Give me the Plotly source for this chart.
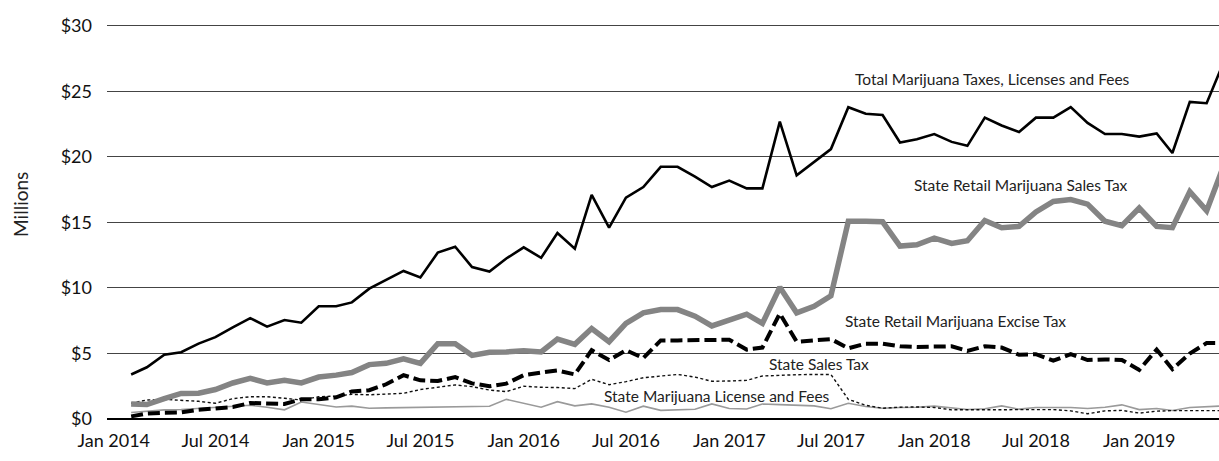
import pandas as pd
import plotly.graph_objects as go

# monthly collections, Feb 2014 - Jun 2019 ($ millions)
months = pd.date_range("2014-02-01", "2019-06-01", freq="MS")

total = [3.4, 3.95, 4.9, 5.1, 5.75, 6.25, 7.0, 7.7, 7.05, 7.55, 7.35,
         8.6, 8.6, 8.9, 9.95, 10.6, 11.3, 10.8, 12.7, 13.15, 11.6, 11.25, 12.25,
         13.1, 12.3, 14.2, 13.0, 17.1, 14.6, 16.9, 17.7, 19.25, 19.25, 18.5, 17.7,
         18.2, 17.6, 17.6, 22.7, 18.6, 19.6, 20.6, 23.8, 23.3, 23.2, 21.1, 21.35,
         21.75, 21.15, 20.85, 23.0, 22.4, 21.9, 23.0, 23.0, 23.8, 22.6, 21.75, 21.75,
         21.55, 21.8, 20.3, 24.2, 24.1, 27.3]

retail_sales = [1.15, 1.1, 1.55, 1.95, 1.97, 2.25, 2.75, 3.1, 2.75, 2.95, 2.75,
                3.2, 3.35, 3.55, 4.15, 4.25, 4.6, 4.25, 5.75, 5.75, 4.85, 5.1, 5.12,
                5.2, 5.12, 6.1, 5.7, 6.9, 5.9, 7.3, 8.1, 8.35, 8.35, 7.85, 7.1,
                7.6, 8.0, 7.3, 10.05, 8.1, 8.6, 9.4, 15.1, 15.1, 15.05, 13.2, 13.3,
                13.8, 13.4, 13.6, 15.15, 14.6, 14.7, 15.8, 16.6, 16.75, 16.4, 15.1, 14.75,
                16.1, 14.7, 14.6, 17.35, 15.9, 19.4]

excise = [0.2, 0.42, 0.48, 0.5, 0.7, 0.78, 0.92, 1.22, 1.22, 1.15, 1.5,
          1.5, 1.65, 2.1, 2.2, 2.65, 3.35, 2.95, 2.9, 3.2, 2.72, 2.5, 2.7,
          3.35, 3.55, 3.7, 3.4, 5.25, 4.5, 5.25, 4.65, 6.0, 6.0, 6.0, 6.0,
          6.05, 5.3, 5.45, 8.05, 5.9, 6.0, 6.1, 5.4, 5.75, 5.75, 5.55, 5.5,
          5.5, 5.55, 5.2, 5.55, 5.45, 4.9, 4.95, 4.45, 4.95, 4.5, 4.55, 4.5,
          3.75, 5.3, 3.8, 5.0, 5.8, 5.8]

state_sales = [1.2, 1.45, 1.5, 1.45, 1.35, 1.2, 1.55, 1.7, 1.7, 1.58, 1.45,
               1.7, 1.75, 1.88, 1.85, 1.9, 1.96, 2.25, 2.45, 2.6, 2.47, 2.21, 2.09,
               2.5, 2.42, 2.4, 2.32, 3.03, 2.62, 2.85, 3.15, 3.25, 3.4, 3.2, 2.88,
               2.9, 2.95, 3.28, 3.36, 3.38, 3.4, 3.4, 1.5, 1.05, 0.82, 0.9, 0.92,
               0.88, 0.7, 0.7, 0.7, 0.74, 0.74, 0.74, 0.72, 0.62, 0.4, 0.62, 0.66,
               0.45, 0.6, 0.64, 0.64, 0.64, 0.64]

license_fees = [0.5, 0.6, 0.7, 0.72, 0.8, 0.9, 1.0, 1.05, 0.9, 0.7, 1.3,
                1.1, 0.92, 0.98, 0.82, 0.85, 0.88, 0.9, 0.92, 0.95, 0.95, 0.97, 1.5,
                1.2, 0.9, 1.32, 1.0, 1.15, 0.9, 0.52, 0.98, 0.66, 0.7, 0.74, 1.15,
                0.8, 0.76, 1.15, 1.1, 1.07, 1.0, 0.78, 1.2, 0.95, 0.82, 0.88, 0.9,
                0.98, 0.85, 0.72, 0.78, 1.0, 0.75, 0.88, 0.88, 0.88, 0.8, 0.9, 1.08,
                0.72, 0.8, 0.65, 0.88, 0.95, 1.0]

y_ticks = [0, 5, 10, 15, 20, 25, 30]
y_labels = ["$0", "$5", "$10", "$15", "$20", "$25", "$30"]

# (text, x date, y value) for the in-chart series labels
labels = [
    ("Total Marijuana Taxes, Licenses and Fees", "2018-04-14", 25.95),
    ("State Retail Marijuana Sales Tax", "2018-06-04", 17.85),
    ("State Retail Marijuana Excise Tax", "2018-02-08", 7.45),
    ("State Sales Tax", "2017-06-10", 4.2),
    ("State Marijuana License and Fees", "2016-12-11", 1.76),
]

fig = go.Figure()
fig.add_trace(go.Scatter(x=months, y=license_fees, mode="lines",
                         line=dict(color="#9a9a9a", width=1.6)))
fig.add_trace(go.Scatter(x=months, y=state_sales, mode="lines",
                         line=dict(color="#111111", width=1.4, dash="3px,2.5px")))
fig.add_trace(go.Scatter(x=months, y=retail_sales, mode="lines",
                         line=dict(color="#848484", width=5.5)))
fig.add_trace(go.Scatter(x=months, y=excise, mode="lines",
                         line=dict(color="#000000", width=4, dash="12px,5px")))
fig.add_trace(go.Scatter(x=months, y=total, mode="lines",
                         line=dict(color="#000000", width=2.6)))

for text, x, y in labels:
    fig.add_annotation(x=x, y=y, text=text, showarrow=False,
                       xanchor="center", yanchor="middle",
                       font=dict(size=15.5, color="#222222"))

fig.add_annotation(xref="paper", yref="paper", x=-0.078, y=0.54,
                   text="Millions", textangle=-90, showarrow=False,
                   xanchor="center", yanchor="middle",
                   font=dict(size=19, color="#222222"))

# y range runs a little past 30 so the top gridline is drawn
fig.update_layout(
    width=1219, height=461,
    margin=dict(l=107, r=0, t=22, b=42),
    paper_bgcolor="white",
    plot_bgcolor="white",
    showlegend=False,
    font=dict(family="Lato", color="#111111"),
    xaxis=dict(
        type="date",
        range=["2013-12-20", "2019-05-23"],
        tick0="2014-01-01", dtick="M6", tickformat="%b %Y",
        showgrid=False, zeroline=False, showline=False,
        ticks="", ticklabelstandoff=9,
        tickfont=dict(size=18, color="#111111"),
    ),
    yaxis=dict(
        range=[0, 30.3],
        tickvals=y_ticks, ticktext=y_labels,
        showgrid=True, gridcolor="#444444", gridwidth=1,
        zeroline=True, zerolinecolor="#000000", zerolinewidth=2,
        showline=False, ticks="", ticklabelstandoff=14,
        tickfont=dict(size=18, color="#111111"),
    ),
)

# drop the browser's default 8px body margin so the figure fills the window
fig.write_html("out.html", config={"displayModeBar": False},
               post_script="document.body.style.margin = '0';")
